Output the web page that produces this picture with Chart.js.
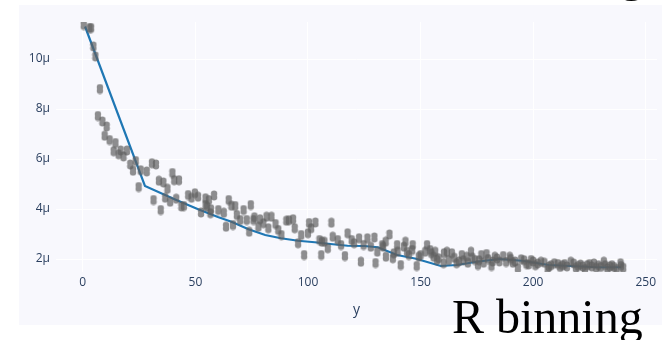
<!DOCTYPE html>
<html>
<head>
<meta charset="utf-8">
<script src="https://cdn.jsdelivr.net/npm/chart.js@4"></script>
<style>
  html, body { margin: 0; padding: 0; background: #fff; }
  #wrap { width: 662px; height: 340px; }
</style>
</head>
<body>
<div id="wrap"><canvas id="binning" width="662" height="340"></canvas></div>
<script>
// binned curve (blue line), values in µ
const binX = [1, 27.6, 41, 51.5, 60, 66, 73.6, 81, 88, 95.6, 103, 110, 117.6, 125, 131, 139.6, 148, 159, 166, 175, 185, 195, 207, 219, 228, 239];
const binY = [11.3, 4.92, 4.38, 3.98, 3.68, 3.49, 3.19, 2.96, 2.83, 2.73, 2.67, 2.6, 2.53, 2.52, 2.47, 2.16, 2.01, 1.72, 1.76, 1.89, 2.0, 1.93, 1.76, 1.71, 1.67, 1.67];

// raw points (grey markers), values in µ
const ptX = [0.4, 3, 3.7, 4.7, 5.6, 6.7, 7.6, 8.7, 9.7, 10.6, 11.9, 13.7, 14.5, 15.9, 16.8, 18.1, 19.6, 21.1, 22.3, 23.5, 24.8, 25.7, 28.4, 30.7, 31.4, 32.5, 33.8, 34.6, 35.8, 36.6, 37.6, 38.8, 39.8, 40.6, 41.5, 42.7, 43.8, 44.9, 46.8, 48.3, 49.8, 51.2, 52.5, 54.5, 54.5, 55.2, 56, 56.7, 56.9, 58.3, 60.2, 62.6, 63.6, 64.8, 66, 66.7, 67.7, 68.4, 69.9, 71.4, 72.8, 73.9, 74.6, 75.8, 76.2, 78, 78.7, 80.2, 81.6, 82.4, 83.8, 85.6, 86.8, 88.2, 90.4, 91.5, 93.4, 94.1, 95.6, 97, 98.3, 100, 100.5, 101.4, 103.3, 105.1, 105.9, 106.2, 107.3, 108.8, 110.4, 111, 113.2, 114.7, 116.4, 117.6, 119.4, 120.5, 122.7, 123.5, 124.7, 126.4, 127.9, 129.5, 130, 130.8, 133, 133.4, 134.5, 134.6, 136.2, 137.7, 138.1, 139.6, 139.8, 141.2, 142.6, 143.3, 144, 144.8, 146.3, 146.5, 148.3, 149.2, 150, 152.1, 152.9, 154.3, 154.8, 155.8, 156.5, 157.3, 158, 160.2, 160.4, 161.7, 162.5, 163.9, 165, 166, 167, 168.3, 169, 170.5, 171, 172.4, 173, 174.1, 175.5, 176, 177, 178, 179.3, 180, 181.5, 182, 183, 184, 185, 186.7, 188, 189.6, 190, 191, 192, 193.2, 194.7, 196, 197, 198, 199.1, 200, 201, 202, 203.5, 205, 206.4, 207, 208, 209.4, 211, 212, 213, 214, 215, 216.7, 218, 219, 220, 221, 222, 223, 224, 225, 226, 227, 228, 229, 230, 231.4, 232, 233, 234, 235, 236, 237, 238.8, 239, 240];
const ptY = [11.36, 11.24, 11.24, 10.5, 10.1, 7.72, 8.8, 7.5, 6.93, 7.3, 6.76, 6.31, 6.64, 6.19, 6.34, 6.1, 6.34, 5.78, 5.53, 5.92, 4.88, 5.55, 5.5, 5.83, 4.36, 5.78, 5.13, 3.96, 5.06, 4.45, 4.81, 4.29, 5.44, 5.15, 4.41, 5.15, 4.1, 4.12, 4.56, 4.45, 4.63, 4.49, 3.86, 4.43, 4.16, 4.09, 4.36, 3.83, 3.99, 4.54, 3.96, 3.85, 3.29, 4.36, 4.13, 3.36, 4.12, 3.76, 3.56, 3.96, 3.56, 3.09, 4.16, 3.56, 3.67, 3.29, 3.59, 3.43, 3.69, 3.23, 3.69, 3.4, 3.16, 2.96, 3.53, 3.55, 3.59, 3.23, 2.63, 2.96, 2.16, 3.03, 3.44, 3.23, 3.46, 2.76, 2.16, 2.69, 2.69, 2.43, 3.45, 2.89, 2.76, 2.56, 2.12, 3.03, 2.76, 2.63, 2.83, 1.89, 2.56, 2.83, 2.49, 2.86, 1.84, 2.29, 2.56, 2.49, 2.69, 2.09, 2.98, 2.03, 2.23, 2.56, 2.29, 1.76, 2.49, 2.69, 2.29, 2.16, 2.36, 2.56, 1.72, 2.09, 2.16, 2.29, 2.56, 2.36, 2.23, 2.09, 2.29, 1.96, 2.03, 1.83, 2.23, 2.29, 1.95, 2.23, 2.05, 1.83, 1.9, 2.16, 1.95, 2.09, 1.85, 2.29, 2.05, 1.96, 1.76, 1.95, 2.16, 1.85, 2.2, 2.0, 1.72, 1.9, 2.09, 2.02, 1.9, 2.12, 1.88, 2.09, 2.0, 1.85, 1.9, 1.63, 1.99, 1.95, 1.8, 1.78, 1.96, 1.9, 1.75, 1.82, 1.89, 1.85, 1.56, 1.7, 1.75, 1.83, 1.8, 1.68, 1.75, 1.8, 1.7, 1.89, 1.82, 1.65, 1.72, 1.78, 1.7, 1.6, 1.75, 1.8, 1.7, 1.82, 1.65, 1.75, 1.68, 1.89, 1.75, 1.62, 1.7, 1.75, 1.68, 1.6, 1.83, 1.72, 1.65];

const xTicks = [0, 50, 100, 150, 200, 250];
const yTicks = [2, 4, 6, 8, 10];

const tickColor = "#2a3f5f";
const tickFont = { family: "'Open Sans', sans-serif", size: 12 };

// doubled grey marker
function makeMarker() {
  var c = document.createElement("canvas");
  c.width = 8; c.height = 11;
  var g = c.getContext("2d");
  g.beginPath();
  g.arc(4, 3.8, 3.2, 0, Math.PI * 2);
  g.arc(4, 7.2, 3.2, 0, Math.PI * 2);
  g.fillStyle = "rgba(95,95,95,0.7)";
  g.fill("nonzero");
  return c;
}
const marker = makeMarker();

const bgPlugin = {
  id: "bg",
  beforeDraw(chart) {
    const ctx = chart.ctx;
    ctx.save();
    ctx.fillStyle = "#ffffff";
    ctx.fillRect(0, 0, chart.width, chart.height);
    ctx.fillStyle = "#f8f8fd";
    ctx.fillRect(19, 5, chart.width - 19, 320);
    ctx.restore();
  },
  afterDraw(chart) {
    const ctx = chart.ctx;
    ctx.save();
    ctx.fillStyle = "#000";
    ctx.font = "48px 'Liberation Serif', serif";
    ctx.textBaseline = "alphabetic";
    ctx.fillText("g", 620, -9);
    ctx.fillText("R binning", 452, 333);
    ctx.restore();
  }
};

const ctx = document.getElementById("binning").getContext("2d");
const chart = new Chart(ctx, {
  type: "scatter",
  data: {
    datasets: [
      {
        label: "points",
        data: ptX.map((x, i) => ({ x: x, y: ptY[i] })),
        pointStyle: marker,
        pointRadius: 4,
        showLine: false,
        order: 1
      },
      {
        label: "binned",
        type: "line",
        data: binX.map((x, i) => ({ x: x, y: binY[i] })),
        borderColor: "#1f77b4",
        borderWidth: 2.2,
        pointRadius: 0,
        fill: false,
        tension: 0,
        order: 2
      }
    ]
  },
  options: {
    responsive: false,
    animation: false,
    devicePixelRatio: 1,
    layout: { padding: { top: 22, bottom: 18, left: 0, right: 0 } },
    plugins: { legend: { display: false }, tooltip: { enabled: false } },
    scales: {
      x: {
        type: "linear",
        min: -11.9,
        max: 255,
        afterBuildTicks: s => { s.ticks = xTicks.map(v => ({ value: v })); },
        afterFit: s => { s.height = 50; },
        grid: { color: "#ffffff", lineWidth: 1, drawTicks: false },
        border: { display: false },
        ticks: { color: tickColor, font: tickFont, padding: 3, maxRotation: 0 },
        title: { display: true, text: "y", color: tickColor, font: { family: "'Open Sans', sans-serif", size: 14 }, padding: { top: 0, bottom: 4 } }
      },
      y: {
        type: "linear",
        min: 1.48,
        max: 11.48,
        afterBuildTicks: s => { s.ticks = yTicks.map(v => ({ value: v })); },
        afterFit: s => { s.width = 56; },
        grid: { color: "#ffffff", lineWidth: 1, drawTicks: false },
        border: { display: false },
        ticks: { color: tickColor, font: tickFont, padding: 6, callback: v => v + "µ" }
      }
    }
  },
  plugins: [bgPlugin]
});
</script>
</body>
</html>
